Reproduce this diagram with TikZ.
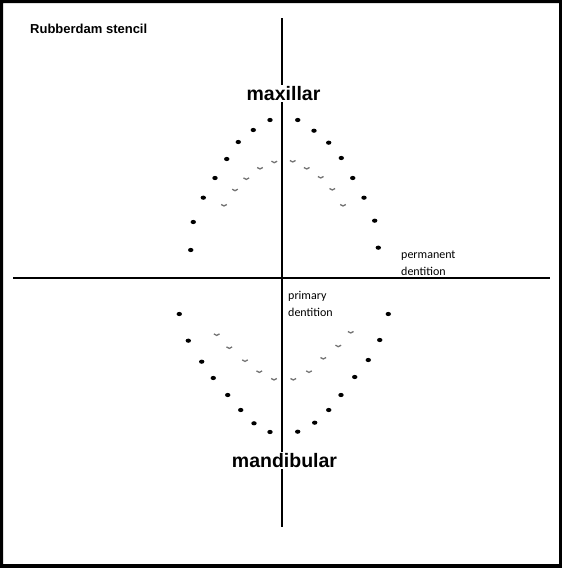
\documentclass[tikz,border=0pt]{standalone}
\usepackage{fontspec}
\setmainfont{Liberation Sans}
\newfontfamily\notefont{Carlito}

\begin{document}
\begin{tikzpicture}[x=1pt, y=-1pt,
    axis/.style={line width=1.7pt, draw=black},
    tooth/.style={fill=black},
    milk/.style={draw=black!55, line width=1.3pt},
    jaw/.style={font=\fontsize{19.5}{20}\selectfont\bfseries, fill=white, inner sep=1pt},
    note/.style={font=\notefont\fontsize{12}{16.5}\selectfont, align=left, inner sep=0pt, anchor=base west}]
  \useasboundingbox (0,0) rectangle (562,568);
  \fill[even odd rule] (0,0) rectangle (562,568) (3,3) rectangle (559,564);

  \coordinate (top) at (282,18);
  \coordinate (bottom) at (282,527);
  \coordinate (left) at (13,278);
  \coordinate (right) at (550,278);
  \draw[axis] (top) -- (bottom);
  \draw[axis] (left) -- (right);

  % permanent dentition
  \foreach \x/\y in {270/120, 253.3/130, 238.3/142, 226.7/159, 215/178, 203.3/197.7, 193.3/222, 190.7/250,
                     297.7/120, 314/130.7, 328.7/142.7, 341.3/158, 352.7/178, 364/197.7, 374.7/220.7, 378.3/247.7,
                     179.3/314, 188.3/340.7, 201.7/361.7, 213.3/378, 227.7/395, 240.7/410, 254/423.3, 270/432,
                     297.7/431.7, 314.7/422.7, 328.7/410, 341/395, 354.7/377, 368.3/360, 379.7/340, 388.3/314}
    \fill[tooth] (\x,\y) ellipse (2.7 and 2.1);

  % primary dentition
  \foreach \x/\y in {274.3/162, 260/168.3, 246.3/178.7, 235/190, 224/205.3,
                     292.7/161.3, 306.7/168.3, 320.7/177.3, 332.3/189.3, 343/205.3,
                     216.7/334.7, 229.3/347.7, 245/360.7, 259.3/371.7, 274/379.3,
                     293.3/379.3, 309/371.7, 323.3/358.3, 338.3/346, 350.7/332.3}
    \draw[milk] (\x-2.8,\y-0.8) .. controls (\x-1,\y+1.2) and (\x+1,\y+1.2) .. (\x+2.8,\y-0.8);

  \node[font=\fontsize{13}{13}\selectfont\bfseries, inner sep=0pt, anchor=west] (title) at (30,28.5) {Rubberdam stencil};
  \node[jaw] (maxillar) at (283.5,93.5) {maxillar};
  \node[jaw] (mandibular) at (284.5,460.5) {mandibular};
  \node[note] (permanent) at (401,275) {permanent\\dentition};
  \node[note] (primary) at (288,316) {primary\\dentition};
\end{tikzpicture}
\end{document}
